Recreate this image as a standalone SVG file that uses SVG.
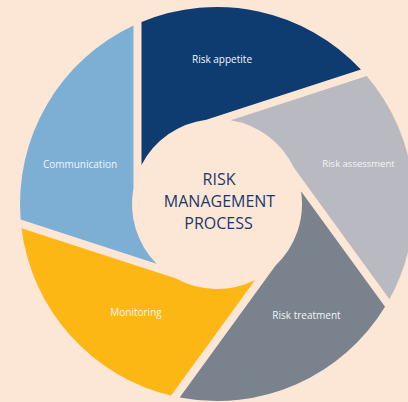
<svg xmlns="http://www.w3.org/2000/svg" width="408" height="402" viewBox="0 0 408 402">
  <style>
    .blade { stroke: none; }
    .label { font-family: "Open Sans", "Liberation Sans", sans-serif; font-size: 10px; fill: #f3f5f8; text-anchor: middle; }
    .title { font-family: "Open Sans", "Liberation Sans", sans-serif; font-size: 16px; font-weight: 500; fill: #1b3868; text-anchor: middle; }
  </style>
  <rect width="408" height="402" fill="#fce7d7"/>

  <!-- Aperture ring: outer circle (217,204) r=197, opening r=85; each blade is cut by straight edges -->
  <g id="risk-appetite">
    <path class="blade" fill="#0f3c70" d="M141.5,164.95 L141.5,22.04 A197,197 0 0 1 360.90,69.45 L206.32,119.68 A85,85 0 0 0 141.5,164.95 Z"/>
    <text class="label" x="222" y="63">Risk appetite</text>
  </g>

  <g id="risk-assessment">
    <path class="blade" fill="#b9bac1" d="M230.81,120.13 L366.72,75.97 A197,197 0 0 1 389.43,299.27 L293.90,167.78 A85,85 0 0 0 230.81,120.13 Z"/>
    <text class="label" x="358.5" y="167" style="font-size:9.5px">Risk assessment</text>
  </g>

  <g id="risk-treatment">
    <path class="blade" fill="#79828d" d="M301.03,191.21 L385.03,306.83 A197,197 0 0 1 179.67,397.43 L275.20,265.94 A85,85 0 0 0 301.03,191.21 Z"/>
    <text class="label" x="306.5" y="319">Risk treatment</text>
  </g>

  <g id="monitoring">
    <path class="blade" fill="#fdb714" d="M255.13,279.97 L171.13,395.59 A197,197 0 0 1 21.50,228.27 L176.08,278.50 A85,85 0 0 0 255.13,279.97 Z"/>
    <text class="label" x="136" y="316">Monitoring</text>
  </g>

  <g id="communication">
    <path class="blade" fill="#7dafd4" d="M156.53,263.73 L20.62,219.57 A197,197 0 0 1 133.5,25.57 L133.5,188.10 A85,85 0 0 0 156.53,263.73 Z"/>
    <text class="label" x="80" y="168">Communication</text>
  </g>

  <g id="center-title">
    <text class="title" x="219" y="185">RISK</text>
    <text class="title" x="219.5" y="207">MANAGEMENT</text>
    <text class="title" x="218.5" y="229">PROCESS</text>
  </g>
</svg>
